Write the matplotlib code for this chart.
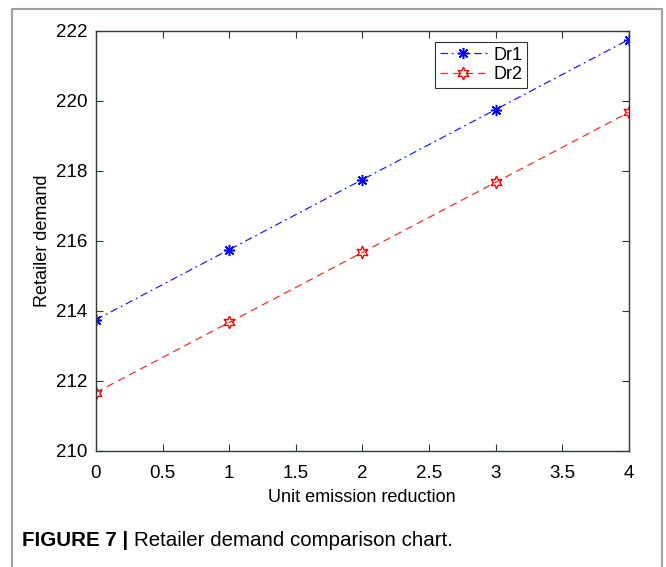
import matplotlib

matplotlib.use("Agg")
import matplotlib.pyplot as plt
from matplotlib.lines import Line2D

plt.rcParams["font.family"] = ["Liberation Sans", "DejaVu Sans"]

# ---- Data -----------------------------------------------------------
emission_reduction = [0, 1, 2, 3, 4]
dr1 = [213.75, 215.75, 217.75, 219.75, 221.75]
dr2 = [211.67, 213.67, 215.67, 217.67, 219.67]
x_ticks = [0, 0.5, 1, 1.5, 2, 2.5, 3, 3.5, 4]
x_tick_labels = ["0", "0.5", "1", "1.5", "2", "2.5", "3", "3.5", "4"]
y_ticks = [210, 212, 214, 216, 218, 220, 222]

axis_color = "#2f3b3b"

fig = plt.figure(figsize=(6.66, 5.67), dpi=100)
ax = fig.add_axes([0.144, 0.2046, 0.8, 0.741])

ax.plot(emission_reduction, dr1, color="#2020ee", ls=(0, (6, 3, 1.5, 3)), lw=0.9,
        marker=(8, 2, 0), ms=8, mew=1.1, mec="#0000ff", label="Dr1")
ax.plot(emission_reduction, dr2, color="#ee3030", ls=(0, (6, 4)), lw=0.9,
        marker=(6, 1, 0), ms=9, mew=1.0, mec="#ff0000", mfc="none",
        label="Dr2")

ax.set_xlim(0, 4)
ax.set_ylim(210, 222)
ax.set_xticks(x_ticks)
ax.set_xticklabels(x_tick_labels)
ax.set_yticks(y_ticks)
ax.tick_params(direction="in", length=5, width=0.8, top=True, right=True,
               labelsize=13.5, colors=axis_color, labelcolor="black")
ax.tick_params(axis="x", pad=10)
ax.tick_params(axis="y", pad=6)
for sp in ax.spines.values():
    sp.set_color(axis_color)
    sp.set_linewidth(1.0)

ax.set_xlabel("Unit emission reduction", fontsize=13, labelpad=5)
ax.set_ylabel("Retailer demand", fontsize=13, labelpad=4)

leg = ax.legend(loc="upper left", bbox_to_anchor=(0.637, 0.973), fontsize=13,
                frameon=True, fancybox=False, handlelength=2.6,
                borderpad=0.25, labelspacing=0.15, handletextpad=0.4,
                borderaxespad=0)
leg.get_frame().set_edgecolor("black")
leg.get_frame().set_linewidth(0.8)

# page frame and caption
W, H = 666, 567
frame_x = [12 / W, 12 / W, 662 / W, 662 / W]
frame_y = [0, 1 - 9 / H, 1 - 9 / H, 0]
fig.add_artist(Line2D(frame_x, frame_y, transform=fig.transFigure,
                      color="#a0a0a0", lw=1.5))

cap_y = 1 - 540 / H
t = fig.text(22 / W, cap_y, "FIGURE 7 | ", fontsize=14.8, fontweight="bold",
             va="center", ha="left")
fig.canvas.draw()
bb = t.get_window_extent()
fig.text(bb.x1 / W, cap_y, "Retailer demand comparison chart.", fontsize=14.8,
         va="center", ha="left")

fig.savefig("out.png", dpi=100)
